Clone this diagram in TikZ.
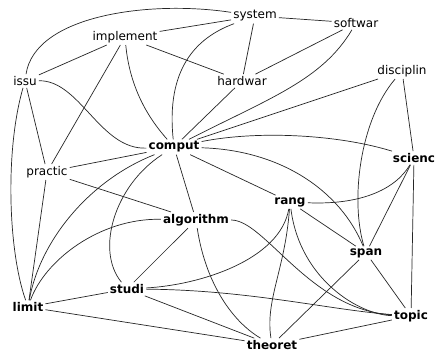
\documentclass[tikz,border=0pt]{standalone}
\usepackage{fontspec}
\setmainfont{DejaVu Sans}
\tikzset{
  lbl/.style={inner sep=2pt, font=\fontsize{12}{14}\selectfont},
  blbl/.style={inner sep=2pt, font=\fontsize{12}{14}\selectfont\bfseries},
  edge/.style={draw=black!85, line width=0.7pt},
}
\begin{document}
\begin{tikzpicture}[x=1pt,y=-1pt]
\useasboundingbox (0,0) rectangle (435,352);
\fill[white] (0,0) rectangle (435,352);
% nodes
\node[lbl] (system) at (255,16) {system};
\node[lbl] (softwar) at (356,23) {softwar};
\node[lbl] (implement) at (125,37) {implement};
\node[lbl] (issu) at (25,81) {issu};
\node[lbl] (hardwar) at (242,81) {hardwar};
\node[lbl] (disciplin) at (402,71) {disciplin};
\node[blbl] (comput) at (174,147) {comput};
\node[lbl] (practic) at (47,172) {practic};
\node[blbl] (scienc) at (414,158) {scienc};
\node[blbl] (rang) at (290,202) {rang};
\node[blbl] (algorithm) at (196,220) {algorithm};
\node[blbl] (span) at (366,253) {span};
\node[blbl] (studi) at (127,289) {studi};
\node[blbl] (limit) at (28,307) {limit};
\node[blbl] (topic) at (411,316) {topic};
\node[blbl] (theoret) at (272,345) {theoret};
% edges
\begin{scope}[edge]
\draw (issu) .. controls (35,15) and (150,0) .. (system);
\draw (implement) -- (system);
\draw (system) .. controls (195,38) and (166,70) .. (comput);
\draw (system) -- (hardwar);
\draw (system) -- (softwar);
\draw (softwar) -- (hardwar);
\draw (softwar) .. controls (322,80) and (270,98) .. (comput);
\draw (implement) -- (issu);
\draw (implement) -- (hardwar);
\draw (implement) -- (practic);
\draw (implement) .. controls (130,90) and (150,120) .. (comput);
\draw (issu) .. controls (80,80) and (100,150) .. (comput);
\draw (issu) -- (practic);
\draw (issu) .. controls (5,150) and (8,250) .. (limit);
\draw (hardwar) -- (comput);
\draw (disciplin) -- (comput);
\draw (disciplin) .. controls (360,120) and (350,200) .. (span);
\draw (disciplin) -- (scienc);
\draw (comput) .. controls (260,130) and (340,135) .. (scienc);
\draw (comput) .. controls (280,150) and (340,190) .. (span);
\draw (comput) -- (rang);
\draw (comput) -- (algorithm);
\draw (comput) -- (practic);
\draw (comput) .. controls (115,185) and (95,250) .. (studi);
\draw (comput) .. controls (90,180) and (40,240) .. (limit);
\draw (practic) -- (algorithm);
\draw (practic) -- (limit);
\draw (algorithm) .. controls (100,218) and (45,260) .. (limit);
\draw (algorithm) -- (studi);
\draw (algorithm) .. controls (205,280) and (230,320) .. (theoret);
\draw (algorithm) .. controls (265,220) and (310,310) .. (topic);
\draw (rang) .. controls (360,205) and (395,190) .. (scienc);
\draw (rang) -- (span);
\draw (rang) .. controls (280,260) and (200,285) .. (studi);
\draw (rang) .. controls (285,270) and (265,300) .. (theoret);
\draw (rang) .. controls (300,280) and (360,315) .. (topic);
\draw (span) -- (topic);
\draw (span) -- (theoret);
\draw (span) -- (scienc);
\draw (scienc) -- (topic);
\draw (studi) -- (limit);
\draw (studi) .. controls (250,290) and (330,310) .. (topic);
\draw (studi) -- (theoret);
\draw (limit) -- (theoret);
\draw (topic) -- (theoret);
\end{scope}
\end{tikzpicture}
\end{document}
